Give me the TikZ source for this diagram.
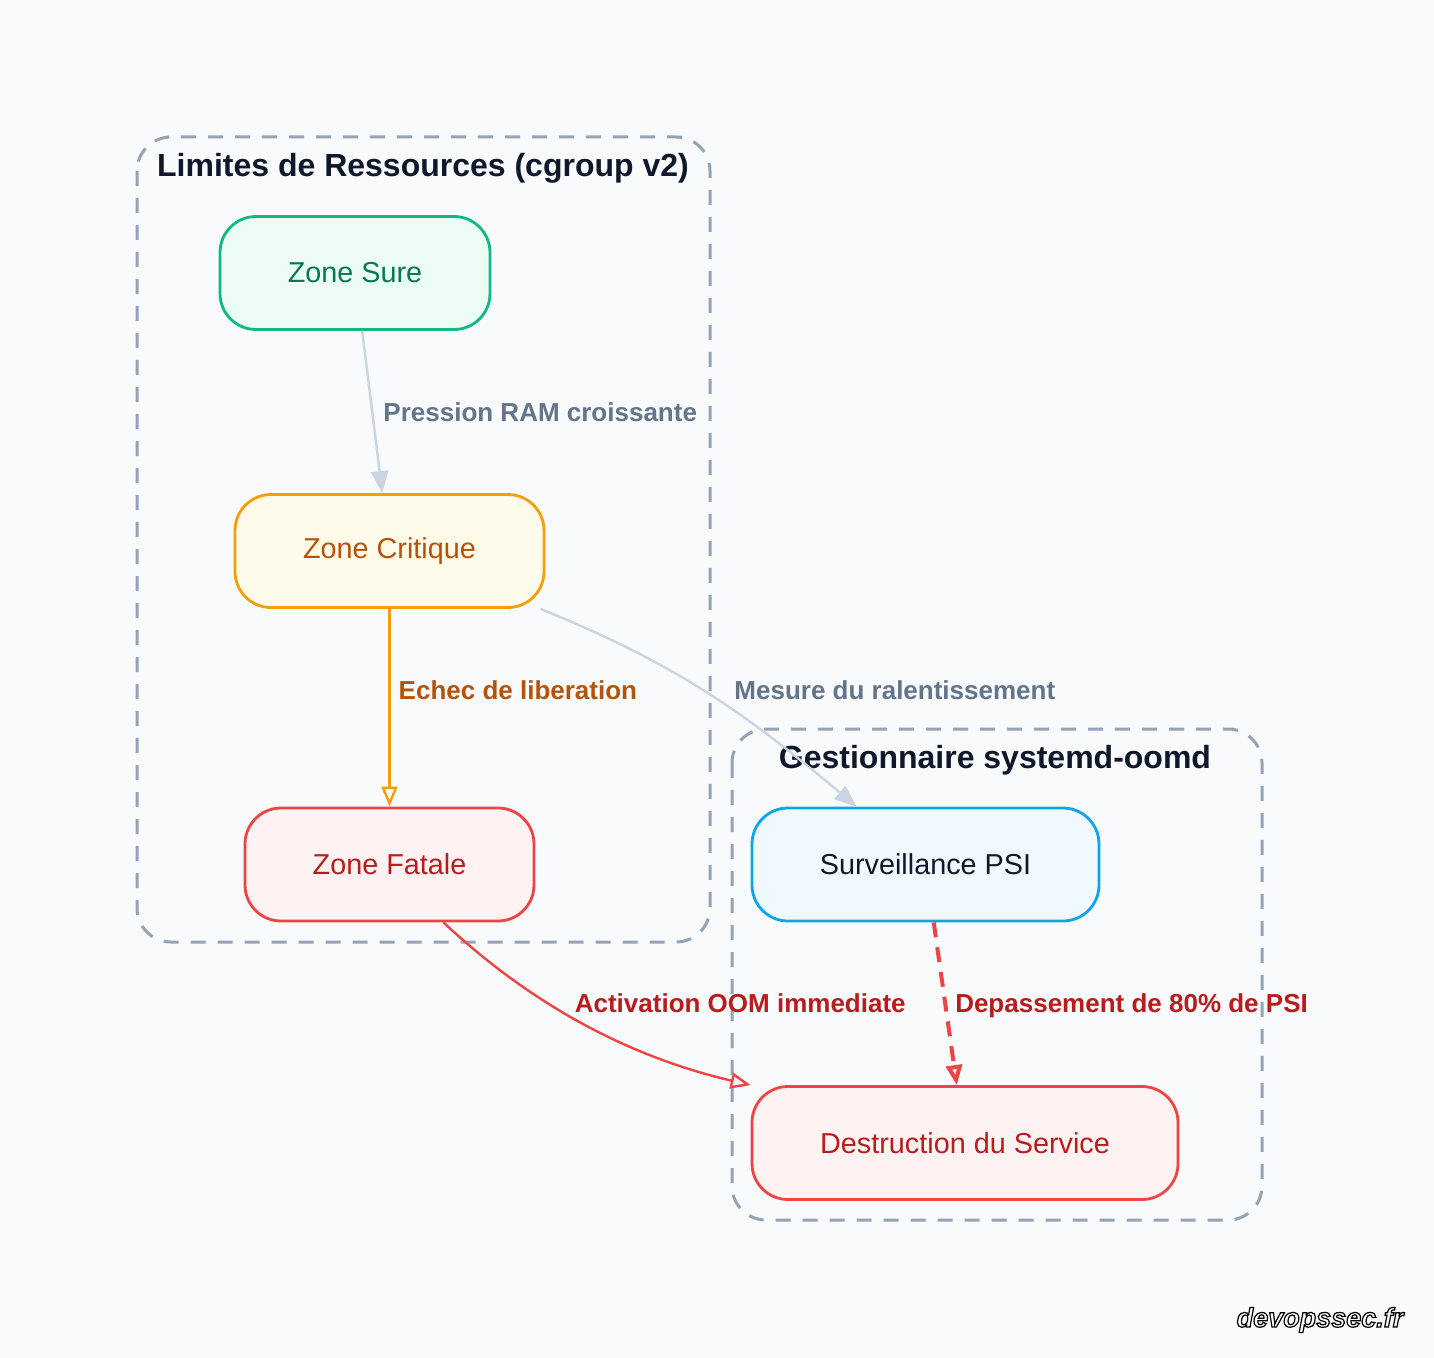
\documentclass[tikz,border=0pt]{standalone}
\usepackage{fontspec}
\setmainfont{Liberation Sans}
\usetikzlibrary{arrows.meta,positioning}

\definecolor{pagebg}{HTML}{F8FAFC}
\definecolor{ink}{HTML}{0F172A}
\definecolor{grpline}{HTML}{94A3B8}
\definecolor{slate}{HTML}{64748B}
\definecolor{edgegray}{HTML}{CBD5E1}
\definecolor{safeline}{HTML}{10B981}
\definecolor{safefill}{HTML}{ECFDF5}
\definecolor{safetext}{HTML}{047857}
\definecolor{warnline}{HTML}{F59E0B}
\definecolor{warnfill}{HTML}{FFFBEB}
\definecolor{warntext}{HTML}{B45309}
\definecolor{fatalline}{HTML}{EF4444}
\definecolor{fatalfill}{HTML}{FEF2F2}
\definecolor{fataltext}{HTML}{B91C1C}
\definecolor{watchline}{HTML}{0EA5E9}
\definecolor{watchfill}{HTML}{F0F9FF}

\begin{document}
\begin{tikzpicture}[
  x=0.5pt, y=-0.5pt,
  font=\fontsize{14.4}{17}\selectfont,
  zone/.style={draw, rounded corners=18pt, align=center, line width=1.4pt,
    minimum height=56.5pt, inner sep=0pt},
  safe/.style={zone, draw=safeline, fill=safefill, text=safetext},
  warn/.style={zone, draw=warnline, fill=warnfill, text=warntext},
  fatal/.style={zone, draw=fatalline, fill=fatalfill, text=fataltext},
  watch/.style={zone, draw=watchline, fill=watchfill, text=ink},
  grp/.style={draw=grpline, line width=1.5pt, dash pattern=on 7.5pt off 6pt,
    rounded corners=17pt},
  grptitle/.style={font=\fontsize{16}{19}\selectfont\bfseries, text=ink},
  lbl/.style={font=\fontsize{13}{15}\selectfont\bfseries, inner sep=0pt},
  soft/.style={-{Triangle[length=11pt, width=8.5pt]}, draw=edgegray, line width=1.2pt},
  hard/.style={-{Triangle[open, length=10pt, width=8pt]}, line width=1.2pt}
]
\useasboundingbox (0,0) rectangle (1434,1358);
\fill[pagebg] (0,0) rectangle (1434,1358);

% ── Group 1: cgroup v2 limits ───────────────────────────────────────────
\draw[grp] (137,137) rectangle (710,942);
\node[grptitle] (cgtitle) at (423,168) {Limites de Ressources (cgroup v2)};
\node[safe, minimum width=135pt] (zsure) at (355,273) {Zone Sure};
\node[warn, minimum width=154.5pt] (zcrit) at (389.5,551) {Zone Critique};
\node[fatal, minimum width=144.5pt] (zfatal) at (389.5,864.5) {Zone Fatale};

% ── Group 2: systemd-oomd ───────────────────────────────────────────────
\draw[grp] (732,729) rectangle (1262,1220);
\node[grptitle] (oomtitle) at (995,760) {Gestionnaire systemd-oomd};
\node[watch, minimum width=173.5pt] (psi) at (925.5,864.5) {Surveillance PSI};
\node[fatal, minimum width=213pt] (destr) at (965,1143) {Destruction du Service};

% ── Connectors ──────────────────────────────────────────────────────────
\draw[soft] (zsure) -- (zcrit)
  node[midway, right=5pt, lbl, text=slate] {Pression RAM croissante};
\draw[hard, draw=warnline] (zcrit) -- (zfatal)
  node[pos=0.41, right=4pt, lbl, text=warntext] {Echec de liberation};
\draw[soft] (zcrit.-21) to[out=-22, in=140]
  node[pos=0.5, right=13pt, yshift=1.5pt, lbl, text=slate] {Mesure du ralentissement} (psi);
\draw[hard, draw=fatalline] (zfatal.-47) .. controls (505,980) and (600,1050) .. (destr.north west)
  node[pos=0.5, anchor=west, xshift=5pt, yshift=4.5pt, lbl, text=fataltext] {Activation OOM immediate};
\draw[hard, draw=fatalline, line width=2pt, dash pattern=on 7.5pt off 5pt] (psi) -- (destr)
  node[midway, right=4pt, yshift=-1pt, lbl, text=fataltext] {Depassement de 80\% de PSI};

% watermark
\node[font=\fontsize{13.5}{15}\selectfont\bfseries\itshape] (mark) at (1320,1320)
  {\color{white}\special{pdf:literal direct 0 G 0.6 w 2 Tr}devopssec.fr\special{pdf:literal direct 0 Tr}};

\end{tikzpicture}
\end{document}
